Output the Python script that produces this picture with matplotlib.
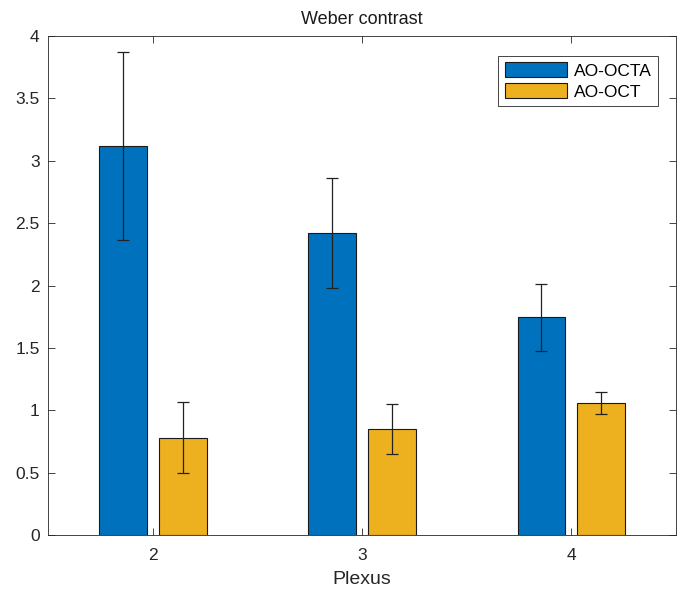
import numpy as np
import matplotlib.pyplot as plt

plt.rcParams['font.family'] = ['Liberation Sans', 'DejaVu Sans']

# Data
plexus = [2, 3, 4]
octa_mean = [3.12, 2.42, 1.745]
octa_err = [0.755, 0.44, 0.27]
oct_mean = [0.78, 0.85, 1.06]
oct_err = [0.285, 0.20, 0.09]
series_names = ['AO-OCTA', 'AO-OCT']

x = np.array(plexus, dtype=float)
bar_w = 0.2286
offset = 0.1429

fig = plt.figure(figsize=(6.88, 6.01), dpi=100)
ax = fig.add_axes([0.0698, 0.1098, 0.9128, 0.8302])

ax.bar(x - offset, octa_mean, bar_w, color='#0072BD', edgecolor='#1a1a1a',
       linewidth=0.8, label=series_names[0], zorder=2)
ax.bar(x + offset, oct_mean, bar_w, color='#EDB120', edgecolor='#1a1a1a',
       linewidth=0.8, label=series_names[1], zorder=2)
ax.errorbar(x - offset, octa_mean, yerr=octa_err, fmt='none', ecolor='#222222',
            elinewidth=0.9, capsize=4, capthick=0.9, zorder=3)
ax.errorbar(x + offset, oct_mean, yerr=oct_err, fmt='none', ecolor='#222222',
            elinewidth=0.9, capsize=4, capthick=0.9, zorder=3)

ax.set_xlim(1.5, 4.5)
ax.set_ylim(0, 4)
ax.set_xticks(plexus)
ax.set_xticklabels([str(p) for p in plexus])
yt = np.arange(0, 4.01, 0.5)
ax.set_yticks(yt)
ax.set_yticklabels(['%g' % v for v in yt])
ax.tick_params(direction='in', top=True, right=True, length=5, width=0.6,
               labelsize=12.5, colors='#262626', pad=6)
ax.tick_params(axis='x', pad=9)
for s in ax.spines.values():
    s.set_linewidth(0.6)
    s.set_color('#262626')

ax.set_title('Weber contrast', fontsize=13, color='#1a1a1a', pad=9)
ax.set_xlabel('Plexus', fontsize=14, color='#262626', labelpad=6)

leg = ax.legend(loc='upper right', bbox_to_anchor=(0.985, 0.978), fontsize=12.5,
                handlelength=3.6, handleheight=1.0, fancybox=False, framealpha=1,
                edgecolor='#262626', borderpad=0.35, labelspacing=0.25,
                handletextpad=0.4)
leg.get_frame().set_linewidth(0.6)

plt.savefig('out.png', dpi=100)
